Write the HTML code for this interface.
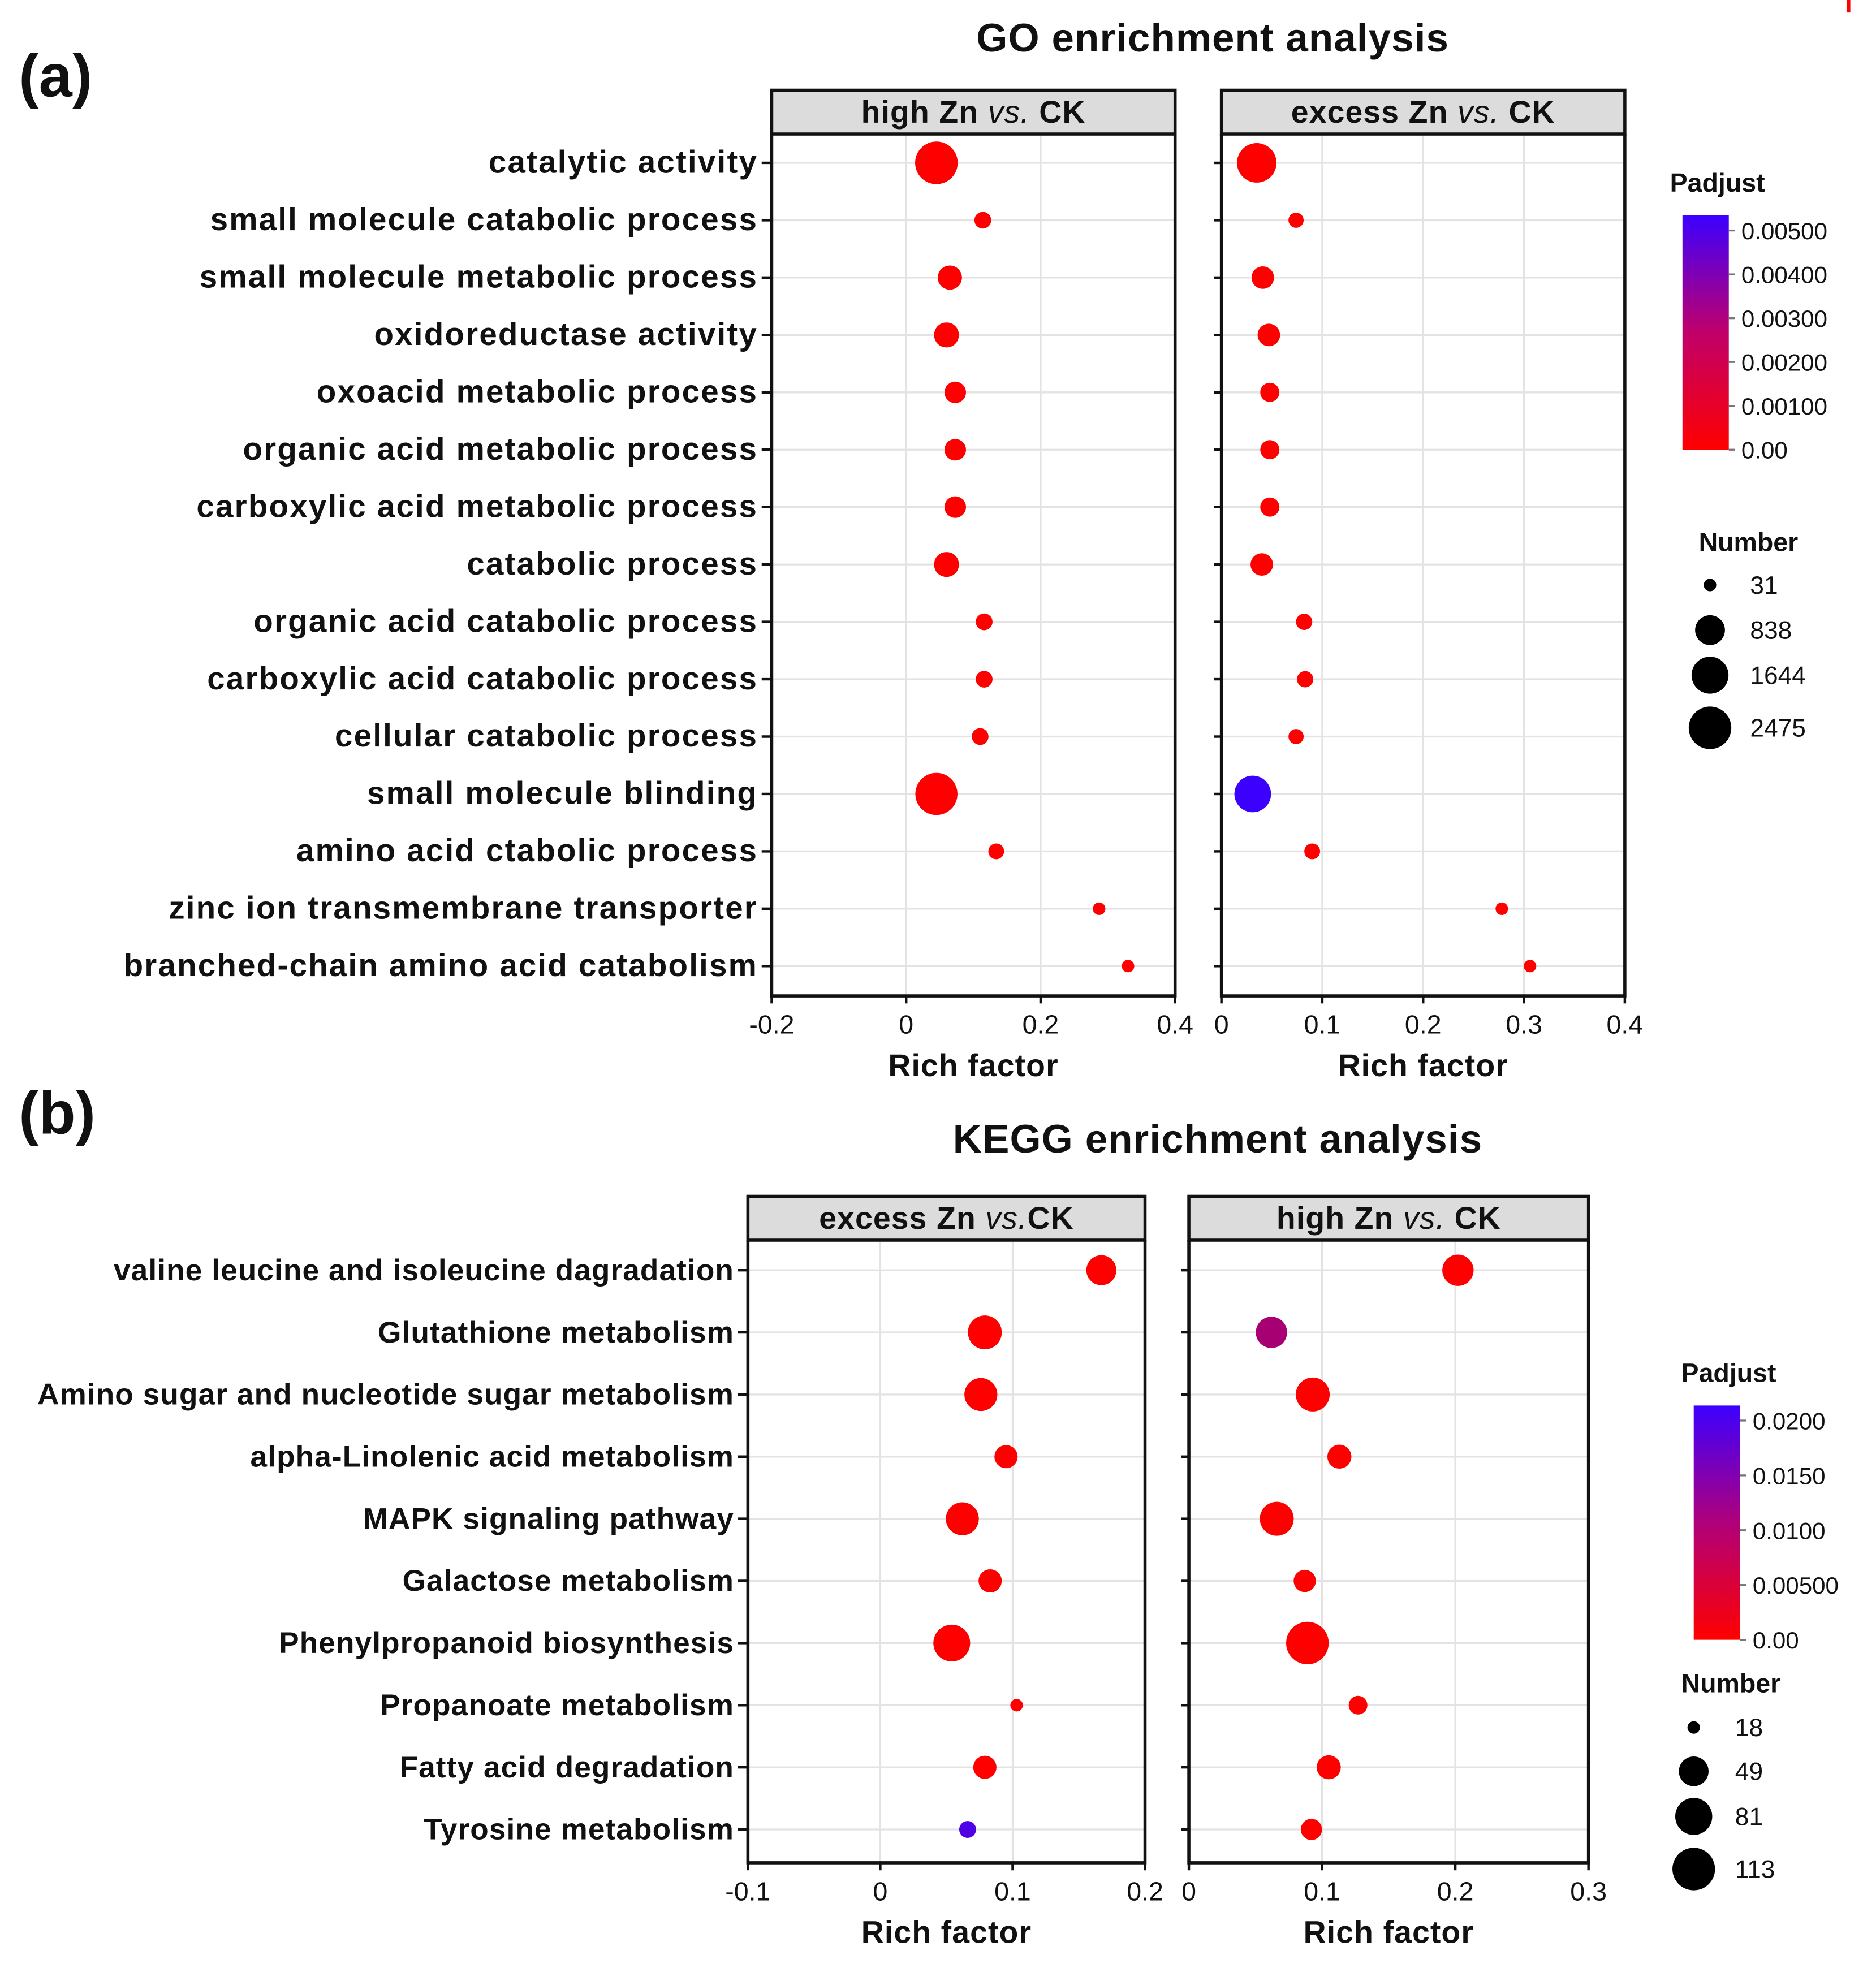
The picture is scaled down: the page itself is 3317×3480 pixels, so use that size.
<!DOCTYPE html>
<html><head><meta charset="utf-8">
<style>
html,body{margin:0;padding:0;background:#fff;}
svg{display:block;}
text{font-family:"Liberation Sans",Arial,sans-serif;fill:#111;}
.b{font-weight:bold;}
</style></head>
<body>
<svg id="fig" width="3317" height="3480" viewBox="0 0 1497.5 1571" preserveAspectRatio="none" xmlns="http://www.w3.org/2000/svg">
<defs>
<linearGradient id="gradA" x1="0" y1="1" x2="0" y2="0"><stop offset="0" stop-color="#ff0000"/><stop offset="0.5" stop-color="#c0006a"/><stop offset="1" stop-color="#3c00ff"/></linearGradient>
<linearGradient id="gradB" x1="0" y1="1" x2="0" y2="0"><stop offset="0" stop-color="#ff0000"/><stop offset="0.5" stop-color="#b0007a"/><stop offset="1" stop-color="#3c00ff"/></linearGradient>
</defs>
<rect x="1474" y="0" width="3" height="10" fill="#ff0000"/>
<text x="15" y="77" class="b" font-size="48">(a)</text>
<text x="968" y="41" class="b" font-size="32" text-anchor="middle" letter-spacing="0.5">GO enrichment analysis</text>
<text x="15" y="905" class="b" font-size="48">(b)</text>
<text x="972" y="920" class="b" font-size="32" text-anchor="middle" letter-spacing="0.5">KEGG enrichment analysis</text>
<g id="layer"></g>
</svg>
<script>
// ---------- GO data ----------
const goTerms = ["catalytic activity","small molecule catabolic process","small molecule metabolic process","oxidoreductase activity","oxoacid metabolic process","organic acid metabolic process","carboxylic acid metabolic process","catabolic process","organic acid catabolic process","carboxylic acid catabolic process","cellular catabolic process","small molecule blinding","amino acid ctabolic process","zinc ion transmembrane transporter","branched-chain amino acid catabolism"];
const goHighRich = [0.045,0.114,0.065,0.060,0.073,0.073,0.073,0.060,0.116,0.116,0.110,0.045,0.134,0.287,0.330];
const goHighNum = [2475,80,400,450,250,250,250,450,80,80,80,2400,60,31,31];
const goHighP = [0,0,0,0,0,0,0,0,0,0,0,0,0,0,0];
const goExRich = [0.035,0.074,0.041,0.047,0.048,0.048,0.048,0.040,0.082,0.083,0.074,0.031,0.090,0.278,0.306];
const goExNum = [2000,50,300,300,150,150,150,300,70,70,50,1600,60,31,31];
const goExP = [0,0,0,0,0,0,0,0,0,0,0,0.005,0,0,0];
const goTicksHigh = [-0.2,0,0.2,0.4];
const goTickLabelsHigh = ["-0.2","0","0.2","0.4"];
const goTicksEx = [0,0.1,0.2,0.3,0.4];
const goTickLabelsEx = ["0","0.1","0.2","0.3","0.4"];
const goLegendNums = [31,838,1644,2475];
const goPTicks = [0.005,0.004,0.003,0.002,0.001,0];
const goPLabels = ["0.00500","0.00400","0.00300","0.00200","0.00100","0.00"];
// ---------- KEGG data ----------
const keggTerms = ["valine leucine and isoleucine dagradation","Glutathione metabolism","Amino sugar and nucleotide sugar metabolism","alpha-Linolenic acid metabolism","MAPK signaling pathway","Galactose metabolism","Phenylpropanoid biosynthesis","Propanoate metabolism","Fatty acid degradation","Tyrosine metabolism"];
const kgExRich = [0.167,0.079,0.076,0.095,0.062,0.083,0.054,0.103,0.079,0.066];
const kgExNum = [50,66,62,30,62,30,80,18,30,20];
const kgExP = [0,0,0,0,0,0,0,0,0,0.018];
const kgHiRich = [0.202,0.062,0.093,0.113,0.066,0.087,0.089,0.127,0.105,0.092];
const kgHiNum = [55,55,66,32,66,28,113,22,32,26];
const kgHiP = [0,0.009,0,0,0,0,0,0,0,0];
const kgTicksEx = [-0.1,0,0.1,0.2];
const kgTickLabelsEx = ["-0.1","0","0.1","0.2"];
const kgTicksHi = [0,0.1,0.2,0.3];
const kgTickLabelsHi = ["0","0.1","0.2","0.3"];
const kgLegendNums = [18,49,81,113];
const kgPTicks = [0.02,0.015,0.01,0.005,0];
const kgPLabels = ["0.0200","0.0150","0.0100","0.00500","0.00"];

const NS="http://www.w3.org/2000/svg";
const layer=document.getElementById('layer');
function mk(tag,attrs,parent){const e=document.createElementNS(NS,tag);for(const k in attrs)e.setAttribute(k,attrs[k]);(parent||layer).appendChild(e);return e;}
function lin(d0,d1,r0,r1){return v=>r0+(v-d0)/(d1-d0)*(r1-r0);}
function col(p,pmax){const t=Math.max(0,Math.min(1,p/pmax));const r=Math.round(255+(60-255)*t),b=Math.round(0+255*t);return `rgb(${r},0,${b})`;}
function rad(n,nmin,nmax){return 5+12*Math.sqrt(Math.max(0,(n-nmin)/(nmax-nmin)));}

function facet(o){
  const g=mk('g',{});
  
  
  const x=lin(o.d0,o.d1,o.x0,o.x1);
  const y=i=>o.y0+o.rowStart+i*o.rowStep;
  o.grid.forEach(v=>{const l=mk('line',{x1:x(v),x2:x(v),y1:o.y0,y2:o.y1,stroke:'#e3e3e3','stroke-width':1.5},g);
    });
  o.terms.forEach((t,i)=>{const l=mk('line',{x1:o.x0,x2:o.x1,y1:y(i),y2:y(i),stroke:'#e3e3e3','stroke-width':1.5},g);
    });
  const s=mk('rect',{x:o.x0,y:o.sy,width:o.x1-o.x0,height:o.y0-o.sy,fill:'#dcdcdc',stroke:'#111','stroke-width':2.5},g);
  
  const st=mk('text',{x:(o.x0+o.x1)/2,y:o.y0-9,'font-size':25,'text-anchor':'middle',class:'b','letter-spacing':0.5},g);
  st.innerHTML=o.strip;
  
  const f=mk('path',{d:`M${o.x0},${o.y0}V${o.y1}H${o.x1}V${o.y0}`,fill:'none',stroke:'#111','stroke-width':2.5},g);
  
  o.ticks.forEach((v,i)=>{mk('line',{x1:x(v),x2:x(v),y1:o.y1,y2:o.y1+6,stroke:'#111','stroke-width':2},g);
    const t=mk('text',{x:x(v),y:o.y1+30,'font-size':21,'text-anchor':'middle'},g);t.textContent=o.tickLabels[i];
    });
  const at=mk('text',{x:(o.x0+o.x1)/2,y:o.y1+64,'font-size':25,'text-anchor':'middle',class:'b','letter-spacing':0.5},g);at.textContent='Rich factor';
  
  if(o.labels){o.terms.forEach((t,i)=>{mk('line',{x1:o.x0-8,x2:o.x0,y1:y(i),y2:y(i),stroke:'#111','stroke-width':2},g);
    const tx=mk('text',{x:o.x0-11,y:y(i)+8,'font-size':o.labelSize,'text-anchor':'end',class:'b','letter-spacing':o.ls},g);tx.textContent=t;
    });}
  else{o.terms.forEach((t,i)=>mk('line',{x1:o.x0-6,x2:o.x0,y1:y(i),y2:y(i),stroke:'#111','stroke-width':2},g));}
  o.rich.forEach((v,i)=>{const c=mk('circle',{cx:x(v),cy:y(i),r:rad(o.num[i],o.nmin,o.nmax),fill:col(o.p[i],o.pmax)},g);
    });
}
function legend(o){
  const g=mk('g',{});
  
  
  const t=mk('text',{x:o.px,y:o.py,'font-size':21,class:'b'},g);t.textContent='Padjust';
  
  const bar=mk('rect',{x:o.bx,y:o.by0,width:37,height:o.by1-o.by0,fill:o.grad},g);
  
  const py=lin(o.pmax,0,o.by0+12,o.by1);
  o.pticks.forEach((v,i)=>{mk('line',{x1:o.bx+37,x2:o.bx+42,y1:py(v),y2:py(v),stroke:'#777','stroke-width':1.5},g);
    const l=mk('text',{x:o.bx+47,y:py(v)+7,'font-size':19},g);l.textContent=o.plabels[i];
    });
  const n=mk('text',{x:o.nx,y:o.ny,'font-size':21,class:'b'},g);n.textContent='Number';
  
  o.nums.forEach((v,i)=>{const c=mk('circle',{cx:o.dx,cy:o.dy[i],r:rad(v,o.nums[0],o.nums[3]),fill:'#000'},g);
    
    const l=mk('text',{x:o.lx,y:o.dy[i]+7,'font-size':20},g);l.textContent=v;
    });
}
const goStep=45.8;
facet({name:'go-high-zn-panel',terms:goTerms,rich:goHighRich,num:goHighNum,p:goHighP,pmax:0.005,nmin:31,nmax:2475,
  d0:-0.2,d1:0.4,x0:616,x1:938,y0:107,y1:795,sy:72,rowStart:23,rowStep:goStep,grid:[0,0.2],ticks:goTicksHigh,tickLabels:goTickLabelsHigh,
  strip:'high Zn <tspan font-style="italic" font-weight="normal">vs.</tspan> CK',labels:true,labelSize:25.5,ls:1});
facet({name:'go-excess-zn-panel',terms:goTerms,rich:goExRich,num:goExNum,p:goExP,pmax:0.005,nmin:31,nmax:2475,
  d0:0,d1:0.4,x0:975,x1:1297,y0:107,y1:795,sy:72,rowStart:23,rowStep:goStep,grid:[0.1,0.2,0.3],ticks:goTicksEx,tickLabels:goTickLabelsEx,
  strip:'excess Zn <tspan font-style="italic" font-weight="normal">vs.</tspan> CK',labels:false});
legend({name:'go-legend',px:1333,py:153,bx:1343,by0:172,by1:359,grad:'url(#gradA)',pmax:0.005,pticks:goPTicks,plabels:goPLabels,
  nx:1356,ny:440,nums:goLegendNums,dx:1365,dy:[467,503,539,581],lx:1397});
const kgStep=49.6;
facet({name:'kegg-excess-zn-panel',terms:keggTerms,rich:kgExRich,num:kgExNum,p:kgExP,pmax:0.02,nmin:18,nmax:113,
  d0:-0.1,d1:0.2,x0:597,x1:914,y0:990,y1:1487,sy:955,rowStart:24,rowStep:kgStep,grid:[0,0.1],ticks:kgTicksEx,tickLabels:kgTickLabelsEx,
  strip:'excess Zn <tspan font-style="italic" font-weight="normal">vs.</tspan>CK',labels:true,labelSize:24,ls:0.5});
facet({name:'kegg-high-zn-panel',terms:keggTerms,rich:kgHiRich,num:kgHiNum,p:kgHiP,pmax:0.02,nmin:18,nmax:113,
  d0:0,d1:0.3,x0:949,x1:1268,y0:990,y1:1487,sy:955,rowStart:24,rowStep:kgStep,grid:[0.1,0.2],ticks:kgTicksHi,tickLabels:kgTickLabelsHi,
  strip:'high Zn <tspan font-style="italic" font-weight="normal">vs.</tspan> CK',labels:false});
legend({name:'kegg-legend',px:1342,py:1103,bx:1352,by0:1122,by1:1309,grad:'url(#gradB)',pmax:0.02,pticks:kgPTicks,plabels:kgPLabels,
  nx:1342,ny:1351,nums:kgLegendNums,dx:1352,dy:[1379,1414,1450,1492],lx:1385});
</script>
</body></html>
